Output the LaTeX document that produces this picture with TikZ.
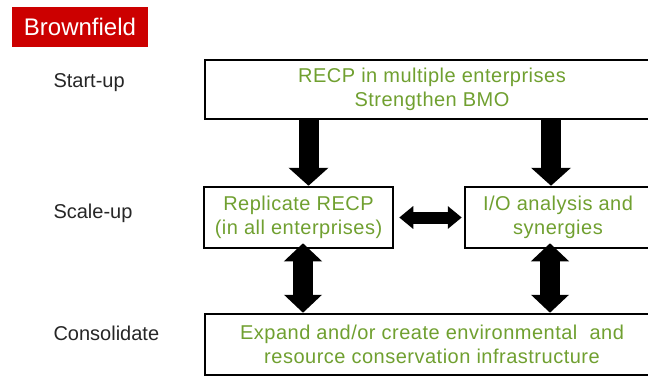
\documentclass[tikz,border=0pt]{standalone}
\usepackage{fontspec}
\setmainfont{Liberation Sans}
\newfontfamily\spacedfont[LetterSpace=2.5]{Liberation Sans}
\usetikzlibrary{arrows.meta}
\definecolor{recpgreen}{RGB}{112,160,48}
\definecolor{fieldred}{RGB}{204,0,0}

\begin{document}
\begin{tikzpicture}[x=1pt,y=-1pt,
        box/.style={draw=black, line width=2.5pt, fill=white, align=center,
                text=recpgreen, font=\spacedfont\fontsize{20}{24}\selectfont, inner sep=0pt},
        stage/.style={anchor=west, font=\fontsize{20}{24}\selectfont, text=black!85},
        down/.style={line width=20pt, -{Triangle[length=18pt,width=39pt]}},
        both/.style={line width=20pt, {Triangle[length=18pt,width=37pt]}-{Triangle[length=18pt,width=37pt]}},
        side/.style={line width=12pt, {Triangle[length=14pt,width=22pt]}-{Triangle[length=14pt,width=22pt]}}]
        \useasboundingbox (0,0) rectangle (648,376);

        % title and stages
        \node[fill=fieldred, text=white, font=\fontsize{24}{28}\selectfont,
                minimum width=136pt, minimum height=40pt, inner sep=0pt] (title) at (80,27) {Brownfield};
        \node[stage] (startup) at (50,83) {Start-up};
        \node[stage] (scaleup) at (50,213) {Scale-up};
        \node[stage] (consolidate) at (50,333) {Consolidate};

        % boxes
        \node[box, minimum width=454pt, minimum height=59pt] (recp) at (432,89.5)
                {RECP in multiple enterprises\\Strengthen BMO};
        \node[box, minimum width=189pt, minimum height=61pt] (replicate) at (298.5,217.5)
                {Replicate RECP\\(in all enterprises)};
        \node[box, minimum width=186pt, minimum height=61pt] (io) at (558,217.5)
                {I/O analysis and\\synergies};
        \node[box, minimum width=454pt, minimum height=61pt] (expand) at (432,344.5)
                {Expand and/or create environmental \ and\\resource conservation infrastructure};

        % arrows
        \draw[down] ([xshift=10pt]replicate.north |- recp.south) -- ([xshift=10pt]replicate.north);
        \draw[down] ([xshift=-7pt]io.north |- recp.south) -- ([xshift=-7pt]io.north);
        \draw[side, shorten <=5pt, shorten >=2pt] (replicate.east) -- (io.west);
        \draw[both, shorten <=-6pt] ([xshift=4.5pt]replicate.south) -- ([xshift=4.5pt]replicate.south |- expand.north);
        \draw[both, shorten <=-6pt] ([xshift=-8pt]io.south) -- ([xshift=-8pt]io.south |- expand.north);
\end{tikzpicture}
\end{document}
